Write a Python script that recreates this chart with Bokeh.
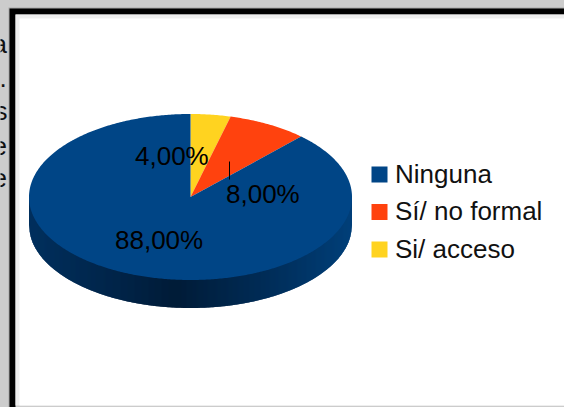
import numpy as np
from bokeh.embed import file_html
from bokeh.resources import INLINE
from bokeh.plotting import figure
from bokeh.models import GlobalInlineStyleSheet
from bokeh.core.properties import value

categories = ["Ninguna", "Sí/ no formal", "Si/ acceso"]
shares = [88.0, 8.0, 4.0]
labels = ["88,00%", "8,00%", "4,00%"]
colors = ["#004586", "#ff420e", "#ffd320"]
side_text = ["a", ".", "s", "e", "e"]

W, H = 564, 407
CX, CY, RX, RY, DEPTH = 190, 196.5, 161.5, 83, 28
FONT = value("Liberation Sans")
TEXT_SHIFT = 10

p = figure(width=W, height=H, x_range=(0, W), y_range=(H, 0), output_backend="svg",
           toolbar_location=None, min_border=0, background_fill_color="#cccccc",
           border_fill_color="#cccccc", outline_line_color=None)
p.axis.visible = False
p.grid.visible = False
p.stylesheets = [GlobalInlineStyleSheet(css="html,body{margin:0;padding:0;overflow:hidden;background:#cccccc}")]

# text of the page behind the chart frame
p.text(x=[-8, -1, -6, -8, -8], y=[53 - TEXT_SHIFT, 87 - TEXT_SHIFT, 120 - TEXT_SHIFT, 155 - TEXT_SHIFT, 187 - TEXT_SHIFT],
       text=side_text, text_font=FONT,
       text_font_size="26px", text_color="#111111", text_baseline="alphabetic")

# frame: black on the left and top only, white runs off the right, gray below
p.quad(left=[8], right=[W], top=[7], bottom=[H], fill_color="#a8a8a8", line_color=None)
p.quad(left=[9], right=[W], top=[8], bottom=[H], fill_color="#000000", line_color=None)
p.quad(left=[15], right=[W], top=[14], bottom=[H], fill_color="#cccccc", line_color=None)
p.quad(left=[15], right=[W], top=[14], bottom=[405], fill_color="#eeeeee", line_color=None)
p.quad(left=[19], right=[W], top=[18], bottom=[405], fill_color="#ffffff", line_color=None)

# side of the disc: a horizontal shade over the lower half; strips overlap to hide seams
stops_x = [29, 120, 175, 260, 352]
stops_rgb = [(0, 48, 94), (0, 36, 72), (0, 28, 56), (0, 44, 86), (0, 64, 122)]
cols_x = np.arange(int(CX - RX), int(CX + RX) + 1)
def rim(x):
    u = np.clip((x - CX) / RX, -1, 1)
    return CY + RY * np.sqrt(1 - u * u)
xs, ys, cols = [], [], []
for xa in cols_x:
    ca, cb = max(xa, CX - RX), min(xa + 2, CX + RX)
    if cb <= ca:
        continue
    ya, yb = rim(ca), rim(cb)
    xs.append([ca, cb, cb, ca])
    ys.append([ya - 4, yb - 4, yb + DEPTH, ya + DEPTH])
    cols.append("#%02x%02x%02x" % tuple(int(np.interp(xa + 0.5, stops_x, [s[i] for s in stops_rgb])) for i in range(3)))
p.patches(xs, ys, fill_color=cols, line_color=None)

# top of the disc, clockwise from twelve o'clock; the last share comes first
order = [2, 1, 0]
start = 0.0
for i in order:
    t = np.linspace(start, start + shares[i] / 100 * 2 * np.pi, max(int(shares[i] * 6), 12))
    px = np.concatenate([[CX], CX + RX * np.sin(t)])
    py = np.concatenate([[CY], CY - RY * np.cos(t)])
    p.patch(px, py, fill_color=colors[i], line_color=None)
    start = t[-1]

# value labels and the leader line
p.segment(x0=[229], y0=[161], x1=[229], y1=[179], line_color="#000000", line_width=1)
p.text(x=[114.5, 225.5, 134.5], y=[249 - TEXT_SHIFT, 203 - TEXT_SHIFT, 165 - TEXT_SHIFT], text=labels, text_font=FONT,
       text_font_size="26px", text_color="#000000", text_baseline="alphabetic")

# legend
rows = np.arange(len(categories))
p.quad(left=[371] * 3, right=[387] * 3, top=166 + rows * 37.5, bottom=182 + rows * 37.5,
       fill_color=colors, line_color=None)
p.text(x=[394.5] * 3, y=183 - TEXT_SHIFT + rows * 37.5, text=categories, text_font=FONT, text_font_size="26px",
       text_color="#111111", text_baseline="alphabetic")

open("out.html", "w").write(file_html(p, INLINE))
